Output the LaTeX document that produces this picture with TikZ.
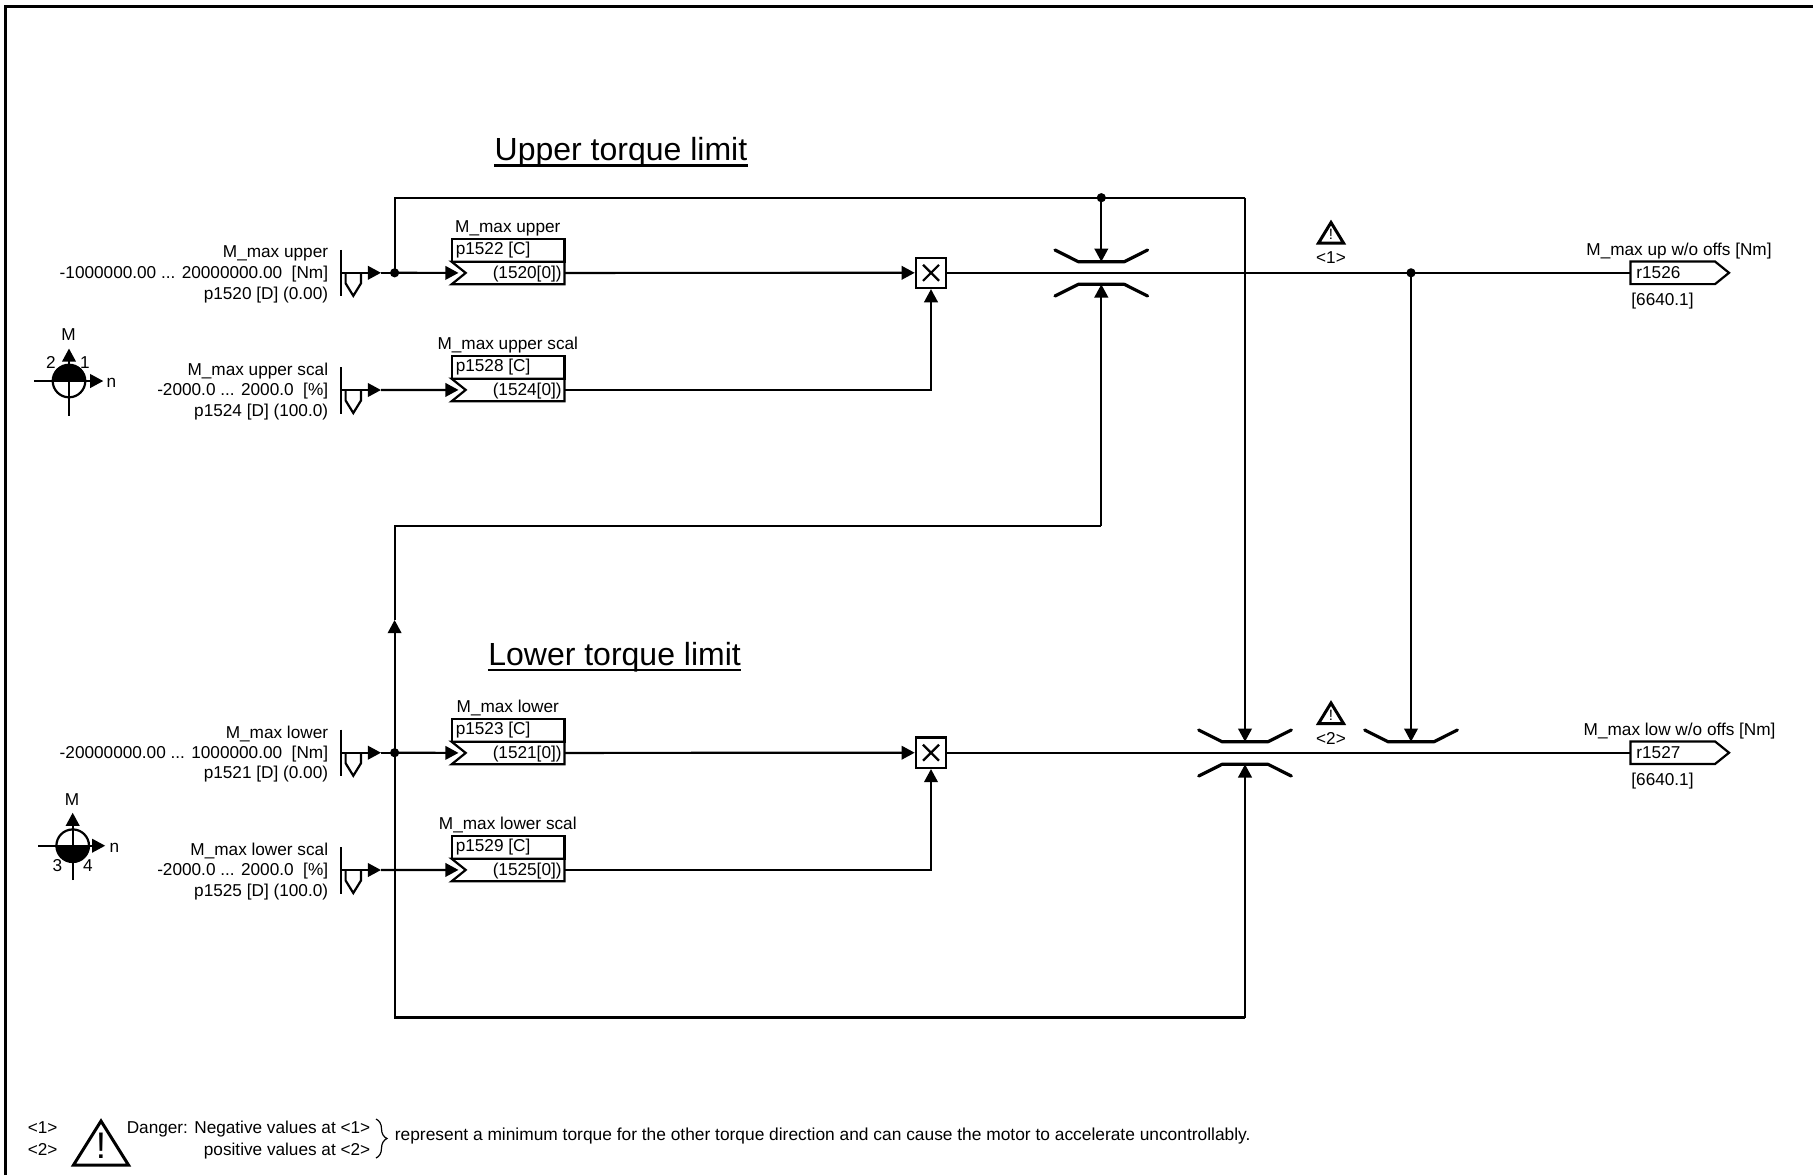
\documentclass[tikz,border=0pt]{standalone}
\usepackage{fontspec}
\setmainfont{Liberation Sans}
\usetikzlibrary{arrows.meta,decorations.pathreplacing}
\tikzset{
 x=0.5pt,y=-0.5pt,
 plain/.style={line width=1.1pt},
 wire/.style={line width=1.1pt,-{Triangle[length=6.6pt,width=6.8pt]}},
 heavy/.style={line width=1.6pt,line cap=round,line join=round},
 warn/.style={line width=1.5pt,line join=miter},
 txt/.style={inner sep=0pt,text height=6.15pt,text depth=0pt,font=\fontsize{8.6pt}{9pt}\selectfont},
 rt/.style={txt,anchor=east},
 lt/.style={txt,anchor=west},
 ct/.style={txt,anchor=center},
 jdot/.style={circle,fill=black,inner sep=0pt,minimum size=4.6pt},
 ttl/.style={inner sep=0pt,anchor=center,text height=11.45pt,text depth=0pt,font=\fontsize{16pt}{18pt}\selectfont},
 uline/.style={line width=1.2pt},
 mixer/.style={draw,line width=1.1pt,minimum size=15.2pt,inner sep=0pt,fill=white},
}
\newcommand{\srcsym}[2]{%
 \coordinate (s#2) at (341,#1);
 \coordinate (s#2t) at (381,#1);
 \draw[plain] (341,#1-23) -- (341,#1+23.5);
 \draw[plain] (345.6,#1) -- ++(0,10.5) -- ++(7.7,12.5) -- ++(7.7,-12.5) -- ++(0,-10.5);
 \draw[wire] (s#2) -- (s#2t);
}
\newcommand{\parmbox}[5]{%
 \coordinate (#2in) at (458.5,#1+33.9);
 \coordinate (#2out) at (564.5,#1+33.9);
 \draw[plain,fill=white] (451.6,#1) rectangle (564.5,#1+22.7);
 \draw[plain] (451.6,#1+22.7) -- (564.5,#1+22.7) -- (564.5,#1+45.3) -- (451.6,#1+45.3) -- (465.7,#1+33.9) -- cycle;
 \node[ct] (#2t) at (507.8,#1-12.4) {#3};
 \node[lt] (#2a) at (455.4,#1+9.6) {#4};
 \node[rt] (#2b) at (562,#1+33.4) {#5};
}
\newcommand{\mixsym}[3]{%
 \node[mixer] (#3) at (#1,#2) {};
 \draw[plain] (#1-8,#2-8) -- (#1+8,#2+8) (#1-8,#2+8) -- (#1+8,#2-8);
}
\newcommand{\limtop}[2]{\draw[heavy] (#1-46.3,#2-11.7) -- (#1-23,#2) -- (#1+23,#2) -- (#1+46.3,#2-11.7);}
\newcommand{\limbot}[2]{\draw[heavy] (#1-46.3,#2+11.7) -- (#1-23,#2) -- (#1+23,#2) -- (#1+46.3,#2+11.7);}
\newcommand{\smalltri}[2]{%
 \draw[warn] (#1,#2) -- (#1+12.5,#2+20.5) -- (#1-12.5,#2+20.5) -- cycle;
 \node[inner sep=0pt,font=\fontsize{7.5pt}{8pt}\selectfont] at (#1,#2+12) {!};
}
\newcommand{\outbox}[2]{%
 \coordinate (#2) at (1630.5,#1);
 \draw[plain,fill=white] (1630.5,#1-11.3) -- (1715,#1-11.3) -- (1729,#1) -- (1715,#1+11.3) -- (1630.5,#1+11.3) -- cycle;
}
\begin{document}
\begin{tikzpicture}
\useasboundingbox (0,0) rectangle (1813,1175);
\draw[line width=1.6pt] (5.5,1175) -- (5.5,6.5) -- (1813,6.5);
% titles
\node[ttl] (t1) at (621,149.2) {Upper torque limit};
\node[ttl] (t2) at (614.6,653.7) {Lower torque limit};
\draw[uline] ([yshift=-2.25pt]t1.south west) -- ([yshift=-2.25pt]t1.south east);
\draw[uline] ([yshift=-2.25pt]t2.south west) -- ([yshift=-2.25pt]t2.south east);
% named points
\coordinate (j1) at (394.6,272.8);
\coordinate (j3) at (394.6,752.7);
\coordinate (c1) at (394.6,197.7);
\coordinate (c2) at (1245,197.7);
\coordinate (j4) at (1101.3,197.7);
\coordinate (c3) at (394.6,526);
\coordinate (c4) at (1101.3,526);
\coordinate (c5) at (394.6,1017.5);
\coordinate (c6) at (1245,1017.5);
\coordinate (mid) at (394.6,620);
\coordinate (j2) at (1411,272.8);
\coordinate (l1t) at (1101.3,261.7);
\coordinate (l1b) at (1101.3,284.3);
\coordinate (l2t) at (1245,741.7);
\coordinate (l2b) at (1245,764.3);
\coordinate (l3t) at (1411,741.7);
% sources
\srcsym{272.8}{1}
\srcsym{390}{2}
\srcsym{752.7}{3}
\srcsym{870}{4}
\node[rt] (a1) at (328.5,251.7) {M\_max upper};
\node[rt] (a2) at (328.5,272.7) {-1000000.00 ... 20000000.00\ \ [Nm]};
\node[rt] (a3) at (328.5,293.5) {p1520 [D] (0.00)};
\node[rt] (b1) at (328.5,369.5) {M\_max upper scal};
\node[rt] (b2) at (328.5,389.5) {-2000.0 ... 2000.0\ \ [\%]};
\node[rt] (b3) at (328.5,410.7) {p1524 [D] (100.0)};
\node[rt] (c1t) at (328.5,732.3) {M\_max lower};
\node[rt] (c2t) at (328.5,752) {-20000000.00 ... 1000000.00\ \ [Nm]};
\node[rt] (c3t) at (328.5,772.7) {p1521 [D] (0.00)};
\node[rt] (d1) at (328.5,849.3) {M\_max lower scal};
\node[rt] (d2) at (328.5,869.5) {-2000.0 ... 2000.0\ \ [\%]};
\node[rt] (d3) at (328.5,890.7) {p1525 [D] (100.0)};
% boxes
\parmbox{239}{p}{M\_max upper}{p1522 [C]}{(1520[0])}
\parmbox{356}{q}{M\_max upper scal}{p1528 [C]}{(1524[0])}
\parmbox{719}{r}{M\_max lower}{p1523 [C]}{(1521[0])}
\parmbox{836}{u}{M\_max lower scal}{p1529 [C]}{(1525[0])}
% mixers
\mixsym{931}{272.8}{m1}
\mixsym{931}{752.7}{m2}
% limits
\limtop{1101.3}{261.7}
\limbot{1101.3}{284.3}
\limtop{1245}{741.7}
\limbot{1245}{764.3}
\limtop{1411}{741.7}
% outputs
\outbox{272.8}{o1}
\outbox{752.7}{o2}
\node[lt] (o1a) at (1636,272) {r1526};
\node[lt] (o2a) at (1636,752) {r1527};
\node[lt] (o1b) at (1631,299) {[6640.1]};
\node[lt] (o2b) at (1631,779.5) {[6640.1]};
\node[ct] (o1t) at (1679,249) {M\_max up w/o offs [Nm]};
\node[ct] (o2t) at (1679.6,729.5) {M\_max low w/o offs [Nm]};
% connectors
\draw[plain] (s1t) -- (j1);
\draw[wire] (j1) -- (pin);
\draw[plain] (s3t) -- (j3);
\draw[wire] (j3) -- (rin);
\draw[wire] (s2t) -- (qin);
\draw[wire] (s4t) -- (uin);
\draw[wire] (pout) -- (m1.west);
\draw[wire] (rout) -- (m2.west);
\draw[wire] (qout) -| (m1.south);
\draw[wire] (uout) -| (m2.south);
\draw[plain] (m1.east) -- (o1);
\draw[plain] (m2.east) -- (o2);
\draw[plain] (j1) -- (c1) -- (c2);
\draw[wire] (c2) -- (l2t);
\draw[wire] (j4) -- (l1t);
\draw[wire] (j3) -- (mid);
\draw[plain] (mid) -- (c3) -- (c4);
\draw[wire] (c4) -- (l1b);
\draw[plain] (j3) -- (c5) -- (c6);
\draw[wire] (c6) -- (l2b);
\draw[wire] (j2) -- (l3t);
% dots
\node[jdot] (d-1) at (j1) {};
\node[jdot] (d-3) at (j3) {};
\node[jdot] (d-4) at (j4) {};
\node[jdot] (d-2) at (j2) {};
% warnings
\smalltri{1331}{222.5}
\smalltri{1331}{703}
\node[ct] (w1) at (1331,257) {<1>};
\node[ct] (w2) at (1331,738) {<2>};
% quadrant upper
\coordinate (qa) at (69,381);
\begin{scope}\clip (45,360) rectangle (95,381);\fill (qa) circle[radius=16.3];\end{scope}
\draw[plain] (qa) circle[radius=16.3];
\coordinate (qat) at (69,348.5);
\coordinate (qab) at (69,415.7);
\coordinate (qal) at (34.4,381);
\coordinate (qar) at (103.3,381);
\draw[wire] (qab) -- (qat);
\draw[wire] (qal) -- (qar);
\node[ct] (qm) at (68.5,334.3) {M};
\node[ct] (q2) at (51,362) {2};
\node[ct] (q1) at (85,362) {1};
\node[ct] (qn) at (111.5,381) {n};
% quadrant lower
\coordinate (qc) at (72.7,845.7);
\begin{scope}\clip (50,845.7) rectangle (100,870);\fill (qc) circle[radius=16.3];\end{scope}
\draw[plain] (qc) circle[radius=16.3];
\coordinate (qct) at (72.7,812.7);
\coordinate (qcb) at (72.7,880);
\coordinate (qcl) at (38.3,845.7);
\coordinate (qcr) at (105.2,845.7);
\draw[wire] (qcb) -- (qct);
\draw[wire] (qcl) -- (qcr);
\node[ct] (qm2) at (72,799) {M};
\node[ct] (q3) at (57.4,865) {3};
\node[ct] (q4) at (88,865) {4};
\node[ct] (qn2) at (114.5,846) {n};
% note
\node[ct] (n1) at (42.7,1127) {<1>};
\node[ct] (n2) at (42.7,1149) {<2>};
\draw[warn] (101,1121) -- (128.5,1165) -- (73.5,1165) -- cycle;
\node[inner sep=0pt,font=\fontsize{18.5pt}{20pt}\selectfont] (bang) at (101,1146) {!};
\node[rt] (n3) at (370.7,1127) {Danger: Negative values at <1>};
\node[rt] (n4) at (370.7,1149) {positive values at <2>};
\coordinate (br1) at (376,1119);
\coordinate (br2) at (376,1158);
\draw[line width=0.6pt,decorate,decoration={brace,amplitude=5.5pt}] (br1) -- (br2);
\node[lt,font=\fontsize{8.68pt}{9pt}\selectfont] (n5) at (394.5,1134.5) {represent a minimum torque for the other torque direction and can cause the motor to accelerate uncontrollably.};
\end{tikzpicture}
\end{document}
